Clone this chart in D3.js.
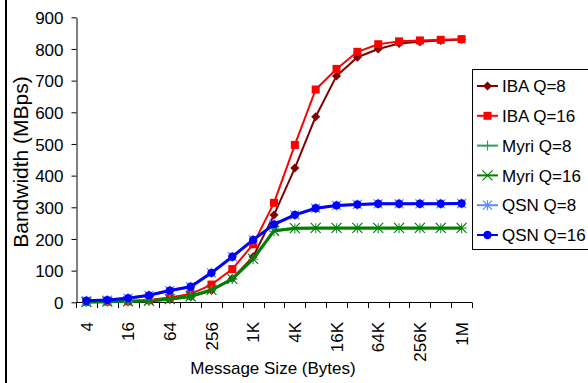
<!DOCTYPE html>
<html>
<head>
<meta charset="utf-8">
<script src="https://cdn.jsdelivr.net/npm/d3@7"></script>
<style>
  body { margin: 0; background: #fff; }
  text { font-family: "Liberation Sans", Arial, sans-serif; fill: #000; }
</style>
</head>
<body>
<svg id="chart"></svg>
<script>
// message sizes (x categories) and the ones that get a label
var sizes = ["4", "8", "16", "32", "64", "128", "256", "512", "1K", "2K", "4K", "8K",
  "16K", "32K", "64K", "128K", "256K", "512K", "1M"];
var sizeLabels = ["4", "16", "64", "256", "1K", "4K", "16K", "64K", "256K", "1M"];
var yTicks = [0, 100, 200, 300, 400, 500, 600, 700, 800, 900];

// bandwidth in MBps
var ibaQ8 = [0.5, 1, 2, 4, 9, 17, 37, 75, 144, 276, 424, 586, 715, 774, 800, 817, 823, 827, 830];
var ibaQ16 = [1, 2, 3, 7, 15, 26, 56, 105, 183, 314, 497, 672, 737, 791, 815, 824, 827, 829, 831];
var myriQ8 = [1, 2, 3, 5, 10, 19, 38, 73, 136, 225, 233, 234, 234, 234, 234, 234, 234, 234, 234];
var myriQ16 = [1, 2, 3, 5, 10, 19, 39, 74, 137, 226, 234, 235, 235, 235, 235, 235, 235, 235, 235];
var qsnQ8 = [5, 7, 13, 22, 37, 49, 93, 144, 197, 246, 276, 297, 306, 309, 311, 311, 311, 311, 312];
var qsnQ16 = [5, 7, 13, 22, 37, 49, 93, 144, 197, 246, 276, 297, 306, 309, 311, 311, 311, 311, 312];

var series = [
  {name: "IBA Q=8", values: ibaQ8, color: "#800000", marker: "diamond", width: 2},
  {name: "IBA Q=16", values: ibaQ16, color: "#ff0000", marker: "square", width: 2},
  {name: "Myri Q=8", values: myriQ8, color: "#339966", marker: "plus", width: 2.5},
  {name: "Myri Q=16", values: myriQ16, color: "#008000", marker: "cross", width: 3},
  {name: "QSN Q=8", values: qsnQ8, color: "#5b8cff", marker: "star", width: 2.5},
  {name: "QSN Q=16", values: qsnQ16, color: "#0000ff", marker: "circle", width: 3}
];

var W = 588, H = 383;
var svg = d3.select("#chart").attr("width", W).attr("height", H);

// outer frame line on the left
svg.append("line")
  .attr("x1", 6).attr("x2", 6).attr("y1", 0).attr("y2", H)
  .attr("stroke", "#000").attr("stroke-width", 2);

var x = d3.scaleBand().domain(sizes).range([76, 472]).padding(0);
var y = d3.scaleLinear().domain([0, 900]).range([302.3, 17.3]);

// y axis
var yAxis = svg.append("g")
  .attr("transform", "translate(76.5,0)")
  .call(d3.axisLeft(y).tickValues(yTicks).tickSize(5).tickSizeOuter(0).tickPadding(8));
yAxis.selectAll("text").style("font-size", "17px").attr("dy", "0.36em");
yAxis.selectAll("line, path").attr("stroke", "#000");

// x axis: ticks between categories, labels at every other center
var xg = svg.append("g");
xg.append("line")
  .attr("x1", 76).attr("x2", 472).attr("y1", 302.5).attr("y2", 302.5)
  .attr("stroke", "#000");
var bounds = sizes.map(function(d) { return x(d); }).concat([x.range()[1]]);
xg.selectAll(".xtick").data(bounds).enter().append("line")
  .attr("x1", function(d) { return Math.round(d) + 0.5; })
  .attr("x2", function(d) { return Math.round(d) + 0.5; })
  .attr("y1", 302.5).attr("y2", 308)
  .attr("stroke", "#000");
xg.selectAll(".xlab").data(sizeLabels).enter().append("text")
  .attr("transform", function(d) {
    return "translate(" + (x(d) + x.bandwidth() / 2) + ",322) rotate(-90)";
  })
  .attr("text-anchor", "end")
  .attr("dy", "0.36em")
  .style("font-size", "17px")
  .text(function(d) { return d; });

// axis titles
svg.append("text")
  .attr("x", 273).attr("y", 374)
  .attr("text-anchor", "middle")
  .style("font-size", "17px")
  .text("Message Size (Bytes)");
svg.append("text")
  .attr("transform", "translate(28,162) rotate(-90)")
  .attr("text-anchor", "middle")
  .style("font-size", "21px")
  .text("Bandwidth (MBps)");

// marker drawing
function drawMarker(g, type, color) {
  if (type == "diamond") {
    g.append("path").attr("d", "M0,-4.5L4.5,0L0,4.5L-4.5,0Z").attr("fill", color);
  } else if (type == "square") {
    g.append("rect").attr("x", -4).attr("y", -4).attr("width", 8).attr("height", 8).attr("fill", color);
  } else if (type == "circle") {
    g.append("circle").attr("r", 4.2).attr("fill", color);
  } else if (type == "plus") {
    g.append("path").attr("d", "M-5,0H5M0,-5V5").attr("stroke", color).attr("stroke-width", 1.2);
  } else if (type == "cross") {
    g.append("path").attr("d", "M-5,-5L5,5M-5,5L5,-5").attr("stroke", color).attr("stroke-width", 1.2);
  } else if (type == "star") {
    g.append("path").attr("d", "M-4.5,-4.5L4.5,4.5M-4.5,4.5L4.5,-4.5M0,-5V5").attr("stroke", color).attr("stroke-width", 1.2);
  }
}

var line = d3.line()
  .x(function(d, i) { return x(sizes[i]) + x.bandwidth() / 2; })
  .y(function(d) { return y(d); });

series.forEach(function(s) {
  var g = svg.append("g");
  g.append("path")
    .attr("d", line(s.values))
    .attr("fill", "none")
    .attr("stroke", s.color)
    .attr("stroke-width", s.width)
    .attr("stroke-linejoin", "round");
  s.values.forEach(function(v, i) {
    var m = g.append("g")
      .attr("transform", "translate(" + (x(sizes[i]) + x.bandwidth() / 2) + "," + y(v) + ")");
    drawMarker(m, s.marker, s.color);
  });
});

// legend
var legend = svg.append("g");
legend.append("rect")
  .attr("x", 472.5).attr("y", 69.5).attr("width", 130).attr("height", 180)
  .attr("fill", "#fff").attr("stroke", "#000");
series.forEach(function(s, i) {
  var ly = 86 + i * 29.8;
  var row = legend.append("g").attr("transform", "translate(0," + ly + ")");
  row.append("line")
    .attr("x1", 477).attr("x2", 498).attr("y1", 0).attr("y2", 0)
    .attr("stroke", s.color).attr("stroke-width", 2);
  drawMarker(row.append("g").attr("transform", "translate(487.5,0)"), s.marker, s.color);
  row.append("text")
    .attr("x", 502).attr("y", 0).attr("dy", "0.36em")
    .style("font-size", "17px")
    .text(s.name);
});
</script>
</body>
</html>
